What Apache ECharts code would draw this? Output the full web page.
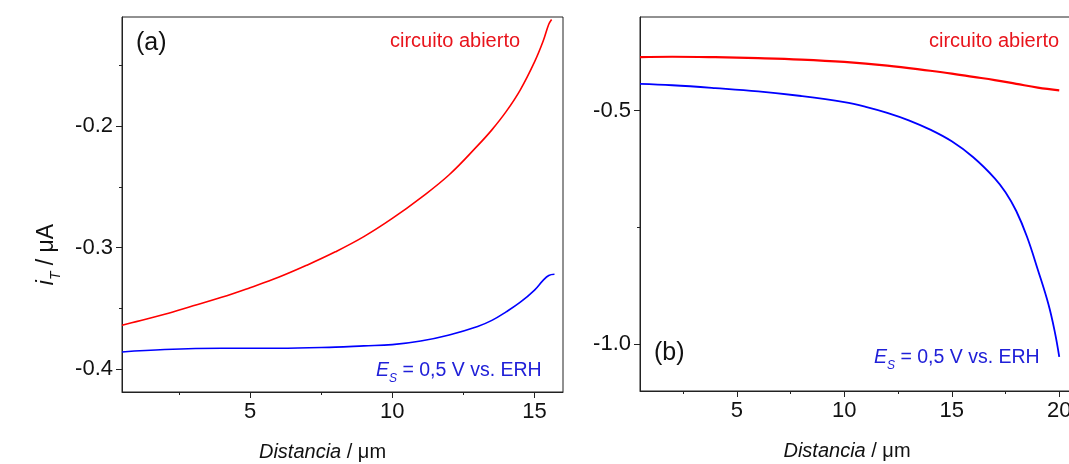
<!DOCTYPE html>
<html>
<head>
<meta charset="utf-8">
<script src="https://cdn.jsdelivr.net/npm/echarts@6/dist/echarts.min.js"></script>
<style>
  html, body { margin: 0; background: #fff; }
  #main { width: 1069px; height: 464px; }
</style>
</head>
<body>
<div id="main"></div>
<script>
// (a) distancia / um, corriente / uA
const distAbiertoA = [0.5, 1, 2, 3, 4, 5, 6, 7, 8, 9, 10, 11, 12, 13, 13.5, 14, 14.5, 15, 15.3, 15.5, 15.6]
const abiertoA = [-0.364, -0.361, -0.355, -0.348, -0.341, -0.333, -0.3245, -0.3145, -0.3035, -0.291, -0.276, -0.259, -0.240, -0.216, -0.203, -0.188, -0.170, -0.147, -0.130, -0.116, -0.112]
const distEsA = [0.5, 2, 4, 6, 8, 9, 10, 11, 12, 13, 13.5, 14, 14.5, 15, 15.3, 15.5, 15.7]
const esA = [-0.386, -0.384, -0.383, -0.383, -0.382, -0.381, -0.380, -0.377, -0.372, -0.365, -0.360, -0.353, -0.345, -0.335, -0.327, -0.323, -0.322]

// (b)
const distAbiertoB = [0.5, 2, 4, 6, 8, 10, 12, 14, 15, 16, 17, 18, 19, 20]
const abiertoB = [-0.386, -0.385, -0.386, -0.388, -0.391, -0.396, -0.404, -0.415, -0.421, -0.428, -0.435, -0.443, -0.451, -0.457]
const distEsB = [0.5, 2, 4, 6, 8, 10, 11, 12, 13, 14, 15, 16, 17, 17.5, 18, 18.5, 19, 19.5, 19.8, 20]
const esB = [-0.443, -0.446, -0.452, -0.459, -0.469, -0.482, -0.492, -0.505, -0.521, -0.541, -0.566, -0.600, -0.645, -0.675, -0.715, -0.770, -0.840, -0.915, -0.975, -1.027]

// marcas de los ejes
const xLabelsA = [5, 10, 15]
const xMinorA = [2.5, 7.5, 12.5]
const yLabelsA = [-0.4, -0.3, -0.2]
const yMinorA = [-0.35, -0.25, -0.15]
const xLabelsB = [5, 10, 15, 20]
const xMinorB = [2.5, 7.5, 12.5, 17.5]
const yLabelsB = [-1.0, -0.5]
const yMinorB = [-0.75]

const FONT = "'Liberation Sans', Arial, sans-serif"
const RED = '#ff0000'
const BLUE = '#0000ff'
const TXT = '#111'

const pairs = (xs, ys) => xs.map((x, i) => [x, ys[i]])

const myChart = echarts.init(document.getElementById('main'))

const grids = [
  { left: 122, top: 17, width: 441, height: 375 },
  { left: 640, top: 17, width: 430, height: 374 }
]

// eje principal (linea, marcas largas, etiquetas)
function mainX(gridIndex, min, max, labels, shift) {
  return {
    type: 'value', gridIndex, min, max, position: 'bottom',
    name: '{it|Distancia}{n| / μm}',
    nameLocation: 'middle', nameGap: 50,
    nameTextStyle: {
      padding: [0, shift, 0, 0],
      rich: {
        it: { fontStyle: 'italic', fontSize: 20, fontFamily: FONT, color: TXT },
        n: { fontSize: 20, fontFamily: FONT, color: TXT }
      }
    },
    axisLine: { show: true, lineStyle: { color: '#222', width: 1 } },
    axisTick: { show: true, inside: false, length: 6, customValues: labels, lineStyle: { color: '#222' } },
    axisLabel: { customValues: labels, fontSize: 22, fontFamily: FONT, color: TXT, margin: 9 },
    splitLine: { show: false }
  }
}
// marcas cortas intermedias
function minorAxis(position, gridIndex, min, max, vals) {
  return {
    type: 'value', gridIndex, min, max, position,
    axisLine: { show: false },
    axisTick: { show: true, inside: false, length: 3, customValues: vals, lineStyle: { color: '#222' } },
    axisLabel: { show: false },
    splitLine: { show: false }
  }
}
function mainY(gridIndex, min, max, labels, withName) {
  const ax = {
    type: 'value', gridIndex, min, max, position: 'left',
    axisLine: { show: true, lineStyle: { color: '#222', width: 1 } },
    axisTick: { show: true, inside: false, length: 6, customValues: labels, lineStyle: { color: '#222' } },
    axisLabel: {
      customValues: labels, fontSize: 22, fontFamily: FONT, color: TXT, margin: 9,
      formatter: v => v.toFixed(1)
    },
    splitLine: { show: false }
  }
  if (withName) {
    ax.name = '{i|i}{sub|T}{n| / μA}'
    ax.nameLocation = 'middle'
    ax.nameRotate = 90
    ax.nameGap = 59
    ax.nameTextStyle = {
      padding: [0, 100, 0, 0],
      rich: {
        i: { fontStyle: 'italic', fontSize: 23, fontFamily: FONT, color: TXT, lineHeight: 32 },
        sub: { fontStyle: 'italic', fontSize: 14, fontFamily: FONT, color: TXT, lineHeight: 14, verticalAlign: 'bottom' },
        n: { fontSize: 23, fontFamily: FONT, color: TXT, lineHeight: 32 }
      }
    }
  }
  return ax
}

const esRich = color => ({
  e: { fontStyle: 'italic', fontSize: 19.5, fontFamily: FONT, fill: color, lineHeight: 28 },
  s: { fontStyle: 'italic', fontSize: 12, fontFamily: FONT, fill: color, lineHeight: 12, verticalAlign: 'bottom' },
  t: { fontSize: 19.5, fontFamily: FONT, fill: color, lineHeight: 28 }
})

function label(left, top, text, color, size) {
  return { type: 'text', left, top, style: { text, fill: color, font: size + 'px ' + FONT } }
}

const option = {
  animation: false,
  backgroundColor: '#fff',
  grid: grids.map(g => Object.assign({
    show: true, borderColor: '#222', borderWidth: 1, backgroundColor: 'transparent',
    outerBoundsMode: 'none', containLabel: false
  }, g)),
  xAxis: [
    mainX(0, 0.5, 16.0, xLabelsA, 40),
    mainX(1, 0.5, 20.5, xLabelsB, 16),
    minorAxis('bottom', 0, 0.5, 16.0, xMinorA),
    minorAxis('bottom', 1, 0.5, 20.5, xMinorB)
  ],
  yAxis: [
    mainY(0, -0.419, -0.110, yLabelsA, true),
    mainY(1, -1.1, -0.3, yLabelsB, false),
    minorAxis('left', 0, -0.419, -0.110, yMinorA),
    minorAxis('left', 1, -1.1, -0.3, yMinorB)
  ],
  series: [
    { name: 'circuito abierto (a)', type: 'line', xAxisIndex: 0, yAxisIndex: 0, data: pairs(distAbiertoA, abiertoA),
      showSymbol: false, smooth: 0.4, lineStyle: { color: RED, width: 1.6 } },
    { name: 'Es (a)', type: 'line', xAxisIndex: 0, yAxisIndex: 0, data: pairs(distEsA, esA),
      showSymbol: false, smooth: 0.4, lineStyle: { color: BLUE, width: 1.6 } },
    { name: 'circuito abierto (b)', type: 'line', xAxisIndex: 1, yAxisIndex: 1, data: pairs(distAbiertoB, abiertoB),
      showSymbol: false, smooth: 0.4, lineStyle: { color: RED, width: 2.2 } },
    { name: 'Es (b)', type: 'line', xAxisIndex: 1, yAxisIndex: 1, data: pairs(distEsB, esB),
      showSymbol: false, smooth: 0.4, lineStyle: { color: BLUE, width: 1.8 } }
  ],
  graphic: [
    label(136, 31, '(a)', TXT, 25),
    label(390, 31, 'circuito abierto', '#e8141c', 20),
    { type: 'text', left: 376, top: 361, style: { text: '{e|E}{s|S}{t| = 0,5 V vs. ERH}', rich: esRich('#2020d8') } },
    label(654, 341, '(b)', TXT, 25),
    label(929, 31, 'circuito abierto', '#e8141c', 20),
    { type: 'text', left: 874, top: 348, style: { text: '{e|E}{s|S}{t| = 0,5 V vs. ERH}', rich: esRich('#2020d8') } }
  ]
}

myChart.setOption(option)
window.addEventListener('resize', () => myChart.resize())
</script>
</body>
</html>
